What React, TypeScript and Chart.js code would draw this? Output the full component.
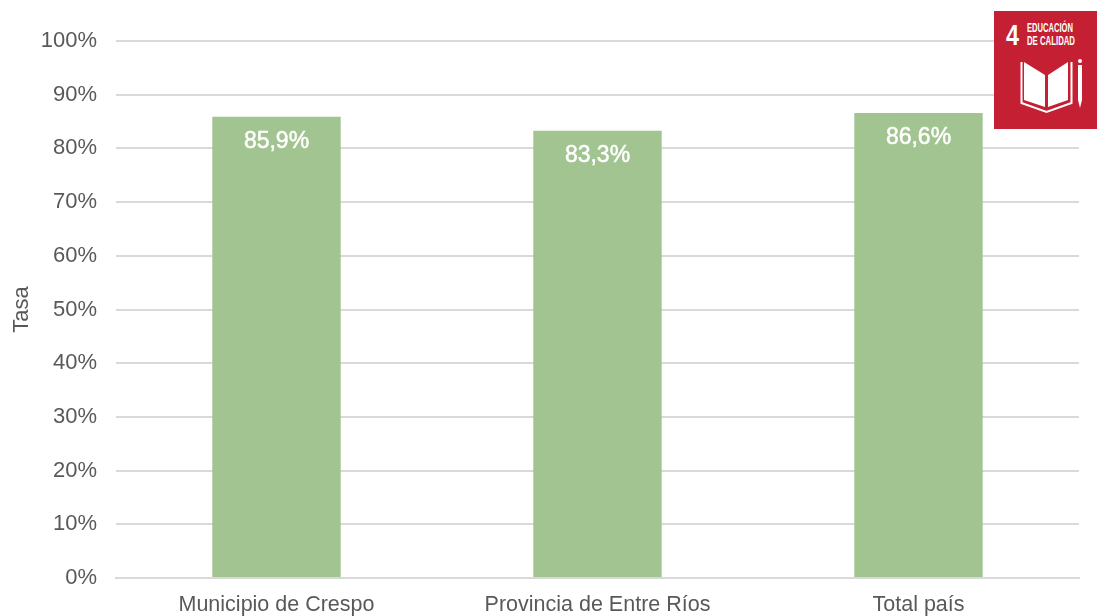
import React, { useEffect, useRef } from "react";
import { Chart, registerables } from "chart.js";

Chart.register(...registerables);

const categories = ["Municipio de Crespo", "Provincia de Entre Ríos", "Total país"];
const tasa = [85.9, 83.3, 86.6];
const tasaLabels = ["85,9%", "83,3%", "86,6%"];
const axisTitle = "Tasa";
const FONT = '"Liberation Sans", Arial, sans-serif';
const TEXT = "#595959";

const barLabels = {
  id: "barLabels",
  afterDatasetsDraw(chart: any) {
    const { ctx } = chart;
    const meta = chart.getDatasetMeta(0);
    ctx.save();
    ctx.fillStyle = "#ffffff";
    ctx.strokeStyle = "#ffffff";
    ctx.lineWidth = 0.5;
    ctx.font = `23px ${FONT}`;
    ctx.textAlign = "center";
    ctx.textBaseline = "middle";
    meta.data.forEach((bar: any, i: number) => {
      ctx.fillText(tasaLabels[i], bar.x, bar.y + 25);
      ctx.strokeText(tasaLabels[i], bar.x, bar.y + 25);
    });
    ctx.restore();
  },
};

function Badge() {
  return (
    <svg
      width={103}
      height={118}
      viewBox="0 0 103 118"
      style={{ position: "absolute", left: 994, top: 11 }}
    >
      <rect width={103} height={118} fill="#c41f33" />
      <text x={12} y={34} fill="#fff" fontFamily={FONT} fontWeight="bold" fontSize={30} textLength={13} lengthAdjust="spacingAndGlyphs">4</text>
      <text x={33} y={21} fill="#fff" fontFamily={FONT} fontWeight="bold" fontSize={13} textLength={46} lengthAdjust="spacingAndGlyphs">EDUCACIÓN</text>
      <text x={33} y={33.5} fill="#fff" fontFamily={FONT} fontWeight="bold" fontSize={13} textLength={48} lengthAdjust="spacingAndGlyphs">DE CALIDAD</text>
      <path d="M30 51 L51 64 L51 96 L30 89 Z M54 64 L74 51 L74 89 L54 96 Z" fill="#fff" />
      <path d="M27.5 51 L27.5 92 L52.5 101 L77.5 92 L77.5 51" fill="none" stroke="#fff" strokeWidth={2} />
      <path d="M84 54 L84 89 L86 97 L88 89 L88 54 Z" fill="#fff" />
      <circle cx={86} cy={50} r={2} fill="#fff" />
    </svg>
  );
}

export default function App() {
  const ref = useRef<HTMLCanvasElement>(null);

  useEffect(() => {
    const chart = new Chart(ref.current!, {
      type: "bar",
      data: {
        labels: categories,
        datasets: [
          {
            label: axisTitle,
            data: tasa,
            backgroundColor: "#a2c490",
            barPercentage: 0.4,
            categoryPercentage: 1,
          },
        ],
      },
      plugins: [barLabels],
      options: {
        responsive: false,
        animation: false,
        layout: { padding: { left: 0, right: 18, top: 41, bottom: 0 } },
        plugins: { legend: { display: false }, tooltip: { enabled: false } },
        scales: {
          x: {
            grid: { display: false },
            border: { color: "#d9d9d9", width: 2 },
            ticks: { color: TEXT, font: { family: FONT, size: 21.5 }, padding: 6, maxRotation: 0 },
            afterFit(axis: any) {
              axis.height = 38;
            },
          },
          y: {
            min: 0,
            max: 100,
            grid: { color: "#d9d9d9", lineWidth: 2, drawTicks: false },
            border: { display: false },
            title: {
              display: true,
              text: axisTitle,
              color: TEXT,
              font: { family: FONT, size: 22 },
              padding: { top: 9, bottom: 0 },
            },
            ticks: {
              stepSize: 10,
              color: TEXT,
              padding: 19,
              font: { family: FONT, size: 22 },
              callback: (v: any) => `${v}%`,
            },
            afterFit(axis: any) {
              axis.width = 116;
            },
          },
        },
      },
    });
    return () => chart.destroy();
  }, []);

  return (
    <div style={{ position: "absolute", left: 0, top: 0, width: 1097, height: 616, background: "#fff" }}>
      <canvas ref={ref} width={1097} height={616} style={{ display: "block" }} />
      <Badge />
    </div>
  );
}
